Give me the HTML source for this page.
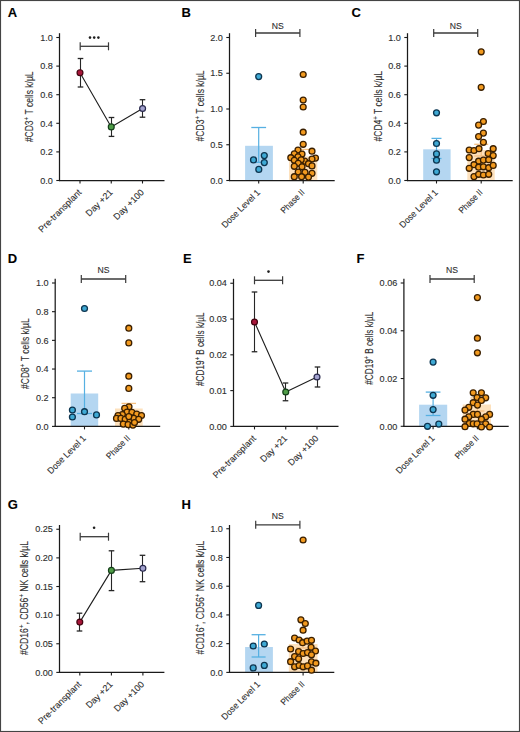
<!DOCTYPE html>
<html><head><meta charset="utf-8"><style>
html,body{margin:0;padding:0;background:#fff;}
body{width:520px;height:732px;overflow:hidden;position:relative;}
svg{position:absolute;left:0;top:0;font-family:"Liberation Sans", sans-serif;}
text{stroke:#2e2e2e;stroke-width:0.12px;}
</style></head><body>
<svg width="520" height="732" viewBox="0 0 520 732">
<rect x="0.5" y="0.5" width="519" height="731" fill="#fff" stroke="#444" stroke-width="1.15"/>
<text x="7.8" y="17.2" font-size="13" font-weight="bold" fill="#000">A</text>
<line x1="59.5" y1="33.2" x2="59.5" y2="181.1" stroke="#1a1a1a" stroke-width="1.25"/>
<line x1="56.3" y1="180.5" x2="59.5" y2="180.5" stroke="#1a1a1a" stroke-width="1.1"/>
<text x="0" y="0" font-size="9.7" text-anchor="end" fill="#2e2e2e" transform="translate(52.9 183.7) scale(0.94 1)">0.0</text>
<line x1="56.3" y1="151.9" x2="59.5" y2="151.9" stroke="#1a1a1a" stroke-width="1.1"/>
<text x="0" y="0" font-size="9.7" text-anchor="end" fill="#2e2e2e" transform="translate(52.9 155.1) scale(0.94 1)">0.2</text>
<line x1="56.3" y1="123.3" x2="59.5" y2="123.3" stroke="#1a1a1a" stroke-width="1.1"/>
<text x="0" y="0" font-size="9.7" text-anchor="end" fill="#2e2e2e" transform="translate(52.9 126.5) scale(0.94 1)">0.4</text>
<line x1="56.3" y1="94.7" x2="59.5" y2="94.7" stroke="#1a1a1a" stroke-width="1.1"/>
<text x="0" y="0" font-size="9.7" text-anchor="end" fill="#2e2e2e" transform="translate(52.9 97.9) scale(0.94 1)">0.6</text>
<line x1="56.3" y1="66.1" x2="59.5" y2="66.1" stroke="#1a1a1a" stroke-width="1.1"/>
<text x="0" y="0" font-size="9.7" text-anchor="end" fill="#2e2e2e" transform="translate(52.9 69.3) scale(0.94 1)">0.8</text>
<line x1="56.3" y1="37.5" x2="59.5" y2="37.5" stroke="#1a1a1a" stroke-width="1.1"/>
<text x="0" y="0" font-size="9.7" text-anchor="end" fill="#2e2e2e" transform="translate(52.9 40.7) scale(0.94 1)">1.0</text>
<line x1="58.9" y1="180.5" x2="164.5" y2="180.5" stroke="#1a1a1a" stroke-width="1.25"/>
<line x1="80" y1="180.5" x2="80" y2="183.5" stroke="#1a1a1a" stroke-width="1.1"/>
<line x1="111.25" y1="180.5" x2="111.25" y2="183.5" stroke="#1a1a1a" stroke-width="1.1"/>
<line x1="142.5" y1="180.5" x2="142.5" y2="183.5" stroke="#1a1a1a" stroke-width="1.1"/>
<text x="82.0" y="193.0" font-size="9.0" text-anchor="end" fill="#2e2e2e" transform="rotate(-45 82.0 193.0)">Pre-transplant</text>
<text x="113.25" y="193.0" font-size="9.0" text-anchor="end" fill="#2e2e2e" transform="rotate(-45 113.25 193.0)">Day +21</text>
<text x="144.5" y="193.0" font-size="9.0" text-anchor="end" fill="#2e2e2e" transform="rotate(-45 144.5 193.0)">Day +100</text>
<path d="M80 72.7 L111.25 126.9 L142.6 108.5" stroke="#1e1e1e" stroke-width="1.1" fill="none"/>
<line x1="80.5" y1="58.5" x2="80.5" y2="87" stroke="#262626" stroke-width="1.1"/>
<line x1="77.7" y1="58.5" x2="83.3" y2="58.5" stroke="#262626" stroke-width="1.3"/>
<line x1="77.7" y1="87" x2="83.3" y2="87" stroke="#262626" stroke-width="1.3"/>
<line x1="111.5" y1="117.5" x2="111.5" y2="136.4" stroke="#262626" stroke-width="1.1"/>
<line x1="108.7" y1="117.5" x2="114.3" y2="117.5" stroke="#262626" stroke-width="1.3"/>
<line x1="108.7" y1="136.4" x2="114.3" y2="136.4" stroke="#262626" stroke-width="1.3"/>
<line x1="142.5" y1="99.7" x2="142.5" y2="117.2" stroke="#262626" stroke-width="1.1"/>
<line x1="139.7" y1="99.7" x2="145.3" y2="99.7" stroke="#262626" stroke-width="1.3"/>
<line x1="139.7" y1="117.2" x2="145.3" y2="117.2" stroke="#262626" stroke-width="1.3"/>
<circle cx="80" cy="72.7" r="2.95" fill="#a8163a" stroke="#430410" stroke-width="1.2"/>
<circle cx="111.25" cy="126.9" r="2.95" fill="#4f9c47" stroke="#15401a" stroke-width="1.2"/>
<circle cx="142.6" cy="108.5" r="2.95" fill="#a3a3cf" stroke="#2a2a4e" stroke-width="1.2"/>
<text x="0" y="0" font-size="10.2" fill="#2e2e2e" text-anchor="middle" transform="translate(33.1 106.8) rotate(-90) scale(0.8332 1)"><tspan>#CD3</tspan><tspan font-size="7.14" dy="-3.88">+</tspan><tspan dy="3.88">&#160;T&#160;cells&#160;k/µL</tspan></text>
<line x1="80.2" y1="46.3" x2="108.5" y2="46.3" stroke="#3a3a3a" stroke-width="1.3"/>
<line x1="80.2" y1="42.3" x2="80.2" y2="50.3" stroke="#3a3a3a" stroke-width="1.2"/>
<line x1="108.5" y1="42.3" x2="108.5" y2="50.3" stroke="#3a3a3a" stroke-width="1.2"/>
<circle cx="90.0" cy="37.6" r="1.3" fill="#1e1e1e"/>
<circle cx="94.2" cy="37.6" r="1.3" fill="#1e1e1e"/>
<circle cx="98.4" cy="37.6" r="1.3" fill="#1e1e1e"/>
<text x="181.5" y="17.2" font-size="13" font-weight="bold" fill="#000">B</text>
<rect x="245.1" y="145.8" width="27.799999999999983" height="34.69999999999999" fill="#b4d6f1"/>
<rect x="289" y="156.5" width="28.30000000000001" height="24.0" fill="#fde1bd"/>
<line x1="258.7" y1="127.5" x2="258.7" y2="162.3" stroke="#56b0e2" stroke-width="1.2"/>
<line x1="251.29999999999998" y1="127.5" x2="266.09999999999997" y2="127.5" stroke="#56b0e2" stroke-width="1.3"/>
<line x1="251.29999999999998" y1="162.3" x2="266.09999999999997" y2="162.3" stroke="#56b0e2" stroke-width="1.3"/>
<line x1="303.2" y1="149.4" x2="303.2" y2="164" stroke="#f6c081" stroke-width="1.2"/>
<line x1="296.2" y1="149.4" x2="310.2" y2="149.4" stroke="#f6c081" stroke-width="1.3"/>
<line x1="296.2" y1="164" x2="310.2" y2="164" stroke="#f6c081" stroke-width="1.3"/>
<line x1="229.5" y1="33.2" x2="229.5" y2="181.1" stroke="#1a1a1a" stroke-width="1.25"/>
<line x1="226.3" y1="180.5" x2="229.5" y2="180.5" stroke="#1a1a1a" stroke-width="1.1"/>
<text x="0" y="0" font-size="9.7" text-anchor="end" fill="#2e2e2e" transform="translate(222.9 183.7) scale(0.94 1)">0.0</text>
<line x1="226.3" y1="144.75" x2="229.5" y2="144.75" stroke="#1a1a1a" stroke-width="1.1"/>
<text x="0" y="0" font-size="9.7" text-anchor="end" fill="#2e2e2e" transform="translate(222.9 147.95) scale(0.94 1)">0.5</text>
<line x1="226.3" y1="109.0" x2="229.5" y2="109.0" stroke="#1a1a1a" stroke-width="1.1"/>
<text x="0" y="0" font-size="9.7" text-anchor="end" fill="#2e2e2e" transform="translate(222.9 112.2) scale(0.94 1)">1.0</text>
<line x1="226.3" y1="73.25" x2="229.5" y2="73.25" stroke="#1a1a1a" stroke-width="1.1"/>
<text x="0" y="0" font-size="9.7" text-anchor="end" fill="#2e2e2e" transform="translate(222.9 76.45) scale(0.94 1)">1.5</text>
<line x1="226.3" y1="37.5" x2="229.5" y2="37.5" stroke="#1a1a1a" stroke-width="1.1"/>
<text x="0" y="0" font-size="9.7" text-anchor="end" fill="#2e2e2e" transform="translate(222.9 40.7) scale(0.94 1)">2.0</text>
<line x1="228.9" y1="180.5" x2="334.7" y2="180.5" stroke="#1a1a1a" stroke-width="1.25"/>
<line x1="258.7" y1="180.5" x2="258.7" y2="183.5" stroke="#1a1a1a" stroke-width="1.1"/>
<line x1="303.2" y1="180.5" x2="303.2" y2="183.5" stroke="#1a1a1a" stroke-width="1.1"/>
<text x="260.7" y="193.0" font-size="9.0" text-anchor="end" fill="#2e2e2e" textLength="50.2" lengthAdjust="spacingAndGlyphs" transform="rotate(-45 260.7 193.0)">Dose Level 1</text>
<text x="305.2" y="193.0" font-size="9.0" text-anchor="end" fill="#2e2e2e" textLength="29.6" lengthAdjust="spacingAndGlyphs" transform="rotate(-45 305.2 193.0)">Phase II</text>
<circle cx="258.7" cy="76.6" r="2.95" fill="#3fa9d4" stroke="#0d3550" stroke-width="1.3"/>
<circle cx="253.5" cy="159.9" r="2.95" fill="#3fa9d4" stroke="#0d3550" stroke-width="1.3"/>
<circle cx="264.3" cy="155.6" r="2.95" fill="#3fa9d4" stroke="#0d3550" stroke-width="1.3"/>
<circle cx="264.3" cy="162.6" r="2.95" fill="#3fa9d4" stroke="#0d3550" stroke-width="1.3"/>
<circle cx="258.8" cy="169.4" r="2.95" fill="#3fa9d4" stroke="#0d3550" stroke-width="1.3"/>
<circle cx="303.2" cy="74.5" r="2.95" fill="#f29a1f" stroke="#3a1f00" stroke-width="1.3"/>
<circle cx="303.2" cy="100" r="2.95" fill="#f29a1f" stroke="#3a1f00" stroke-width="1.3"/>
<circle cx="303.2" cy="107" r="2.95" fill="#f29a1f" stroke="#3a1f00" stroke-width="1.3"/>
<circle cx="303.2" cy="132.2" r="2.95" fill="#f29a1f" stroke="#3a1f00" stroke-width="1.3"/>
<circle cx="303.2" cy="144.3" r="2.95" fill="#f29a1f" stroke="#3a1f00" stroke-width="1.3"/>
<circle cx="298" cy="150" r="2.95" fill="#f29a1f" stroke="#3a1f00" stroke-width="1.3"/>
<circle cx="312" cy="151.2" r="2.95" fill="#f29a1f" stroke="#3a1f00" stroke-width="1.3"/>
<circle cx="294.3" cy="153.8" r="2.95" fill="#f29a1f" stroke="#3a1f00" stroke-width="1.3"/>
<circle cx="302" cy="154" r="2.95" fill="#f29a1f" stroke="#3a1f00" stroke-width="1.3"/>
<circle cx="290.8" cy="157.7" r="2.95" fill="#f29a1f" stroke="#3a1f00" stroke-width="1.3"/>
<circle cx="298" cy="156.8" r="2.95" fill="#f29a1f" stroke="#3a1f00" stroke-width="1.3"/>
<circle cx="315.5" cy="158.1" r="2.95" fill="#f29a1f" stroke="#3a1f00" stroke-width="1.3"/>
<circle cx="312" cy="159" r="2.95" fill="#f29a1f" stroke="#3a1f00" stroke-width="1.3"/>
<circle cx="294.3" cy="160.3" r="2.95" fill="#f29a1f" stroke="#3a1f00" stroke-width="1.3"/>
<circle cx="304.7" cy="161.1" r="2.95" fill="#f29a1f" stroke="#3a1f00" stroke-width="1.3"/>
<circle cx="301.2" cy="159.8" r="2.95" fill="#f29a1f" stroke="#3a1f00" stroke-width="1.3"/>
<circle cx="298.2" cy="163.3" r="2.95" fill="#f29a1f" stroke="#3a1f00" stroke-width="1.3"/>
<circle cx="308.5" cy="163.7" r="2.95" fill="#f29a1f" stroke="#3a1f00" stroke-width="1.3"/>
<circle cx="294.3" cy="166.3" r="2.95" fill="#f29a1f" stroke="#3a1f00" stroke-width="1.3"/>
<circle cx="302" cy="166.8" r="2.95" fill="#f29a1f" stroke="#3a1f00" stroke-width="1.3"/>
<circle cx="312" cy="165.9" r="2.95" fill="#f29a1f" stroke="#3a1f00" stroke-width="1.3"/>
<circle cx="298.2" cy="172" r="2.95" fill="#f29a1f" stroke="#3a1f00" stroke-width="1.3"/>
<circle cx="305" cy="172.4" r="2.95" fill="#f29a1f" stroke="#3a1f00" stroke-width="1.3"/>
<circle cx="312" cy="173.3" r="2.95" fill="#f29a1f" stroke="#3a1f00" stroke-width="1.3"/>
<circle cx="294.3" cy="176.7" r="2.95" fill="#f29a1f" stroke="#3a1f00" stroke-width="1.3"/>
<circle cx="301.6" cy="176.7" r="2.95" fill="#f29a1f" stroke="#3a1f00" stroke-width="1.3"/>
<circle cx="308.5" cy="177.1" r="2.95" fill="#f29a1f" stroke="#3a1f00" stroke-width="1.3"/>
<text x="0" y="0" font-size="10.2" fill="#2e2e2e" text-anchor="middle" transform="translate(203.8 105.9) rotate(-90) scale(0.8379 1)"><tspan>#CD3</tspan><tspan font-size="7.14" dy="-3.88">+</tspan><tspan dy="3.88">&#160;T&#160;cells&#160;k/µL</tspan></text>
<line x1="255.6" y1="33.0" x2="299.9" y2="33.0" stroke="#3a3a3a" stroke-width="1.3"/>
<line x1="255.6" y1="29.0" x2="255.6" y2="37.0" stroke="#3a3a3a" stroke-width="1.2"/>
<line x1="299.9" y1="29.0" x2="299.9" y2="37.0" stroke="#3a3a3a" stroke-width="1.2"/>
<text x="0" y="0" font-size="9.4" text-anchor="middle" fill="#2e2e2e" transform="translate(277.75 29.0) scale(0.92 1)">NS</text>
<text x="351.5" y="17.2" font-size="13" font-weight="bold" fill="#000">C</text>
<rect x="423.2" y="149.3" width="27.400000000000034" height="31.19999999999999" fill="#b4d6f1"/>
<rect x="467.3" y="150" width="27.399999999999977" height="30.5" fill="#fde1bd"/>
<line x1="436.5" y1="138.4" x2="436.5" y2="158.5" stroke="#56b0e2" stroke-width="1.2"/>
<line x1="431.5" y1="138.4" x2="441.5" y2="138.4" stroke="#56b0e2" stroke-width="1.3"/>
<line x1="431.5" y1="158.5" x2="441.5" y2="158.5" stroke="#56b0e2" stroke-width="1.3"/>
<line x1="481.2" y1="144.3" x2="481.2" y2="156" stroke="#f6c081" stroke-width="1.2"/>
<line x1="474.2" y1="144.3" x2="488.2" y2="144.3" stroke="#f6c081" stroke-width="1.3"/>
<line x1="474.2" y1="156" x2="488.2" y2="156" stroke="#f6c081" stroke-width="1.3"/>
<line x1="407.5" y1="33.2" x2="407.5" y2="181.1" stroke="#1a1a1a" stroke-width="1.25"/>
<line x1="404.3" y1="180.5" x2="407.5" y2="180.5" stroke="#1a1a1a" stroke-width="1.1"/>
<text x="0" y="0" font-size="9.7" text-anchor="end" fill="#2e2e2e" transform="translate(400.9 183.7) scale(0.94 1)">0.0</text>
<line x1="404.3" y1="151.9" x2="407.5" y2="151.9" stroke="#1a1a1a" stroke-width="1.1"/>
<text x="0" y="0" font-size="9.7" text-anchor="end" fill="#2e2e2e" transform="translate(400.9 155.1) scale(0.94 1)">0.2</text>
<line x1="404.3" y1="123.3" x2="407.5" y2="123.3" stroke="#1a1a1a" stroke-width="1.1"/>
<text x="0" y="0" font-size="9.7" text-anchor="end" fill="#2e2e2e" transform="translate(400.9 126.5) scale(0.94 1)">0.4</text>
<line x1="404.3" y1="94.7" x2="407.5" y2="94.7" stroke="#1a1a1a" stroke-width="1.1"/>
<text x="0" y="0" font-size="9.7" text-anchor="end" fill="#2e2e2e" transform="translate(400.9 97.9) scale(0.94 1)">0.6</text>
<line x1="404.3" y1="66.1" x2="407.5" y2="66.1" stroke="#1a1a1a" stroke-width="1.1"/>
<text x="0" y="0" font-size="9.7" text-anchor="end" fill="#2e2e2e" transform="translate(400.9 69.3) scale(0.94 1)">0.8</text>
<line x1="404.3" y1="37.5" x2="407.5" y2="37.5" stroke="#1a1a1a" stroke-width="1.1"/>
<text x="0" y="0" font-size="9.7" text-anchor="end" fill="#2e2e2e" transform="translate(400.9 40.7) scale(0.94 1)">1.0</text>
<line x1="406.9" y1="180.5" x2="512.7" y2="180.5" stroke="#1a1a1a" stroke-width="1.25"/>
<line x1="436.5" y1="180.5" x2="436.5" y2="183.5" stroke="#1a1a1a" stroke-width="1.1"/>
<line x1="481.2" y1="180.5" x2="481.2" y2="183.5" stroke="#1a1a1a" stroke-width="1.1"/>
<text x="438.5" y="193.0" font-size="9.0" text-anchor="end" fill="#2e2e2e" textLength="50.2" lengthAdjust="spacingAndGlyphs" transform="rotate(-45 438.5 193.0)">Dose Level 1</text>
<text x="483.2" y="193.0" font-size="9.0" text-anchor="end" fill="#2e2e2e" textLength="29.6" lengthAdjust="spacingAndGlyphs" transform="rotate(-45 483.2 193.0)">Phase II</text>
<circle cx="436.5" cy="112.8" r="2.95" fill="#3fa9d4" stroke="#0d3550" stroke-width="1.3"/>
<circle cx="436.5" cy="143.5" r="2.95" fill="#3fa9d4" stroke="#0d3550" stroke-width="1.3"/>
<circle cx="436.5" cy="153.9" r="2.95" fill="#3fa9d4" stroke="#0d3550" stroke-width="1.3"/>
<circle cx="436.5" cy="160.2" r="2.95" fill="#3fa9d4" stroke="#0d3550" stroke-width="1.3"/>
<circle cx="436.5" cy="171.8" r="2.95" fill="#3fa9d4" stroke="#0d3550" stroke-width="1.3"/>
<circle cx="481.2" cy="51.8" r="2.95" fill="#f29a1f" stroke="#3a1f00" stroke-width="1.3"/>
<circle cx="481.2" cy="87.3" r="2.95" fill="#f29a1f" stroke="#3a1f00" stroke-width="1.3"/>
<circle cx="483.4" cy="121.5" r="2.95" fill="#f29a1f" stroke="#3a1f00" stroke-width="1.3"/>
<circle cx="478.6" cy="125.1" r="2.95" fill="#f29a1f" stroke="#3a1f00" stroke-width="1.3"/>
<circle cx="483.4" cy="133.1" r="2.95" fill="#f29a1f" stroke="#3a1f00" stroke-width="1.3"/>
<circle cx="478.6" cy="136.6" r="2.95" fill="#f29a1f" stroke="#3a1f00" stroke-width="1.3"/>
<circle cx="483.4" cy="142.3" r="2.95" fill="#f29a1f" stroke="#3a1f00" stroke-width="1.3"/>
<circle cx="469.2" cy="150" r="2.95" fill="#f29a1f" stroke="#3a1f00" stroke-width="1.3"/>
<circle cx="474" cy="150.5" r="2.95" fill="#f29a1f" stroke="#3a1f00" stroke-width="1.3"/>
<circle cx="479" cy="148.7" r="2.95" fill="#f29a1f" stroke="#3a1f00" stroke-width="1.3"/>
<circle cx="493.2" cy="148.7" r="2.95" fill="#f29a1f" stroke="#3a1f00" stroke-width="1.3"/>
<circle cx="488.2" cy="153.5" r="2.95" fill="#f29a1f" stroke="#3a1f00" stroke-width="1.3"/>
<circle cx="493.2" cy="155.6" r="2.95" fill="#f29a1f" stroke="#3a1f00" stroke-width="1.3"/>
<circle cx="469.2" cy="157.6" r="2.95" fill="#f29a1f" stroke="#3a1f00" stroke-width="1.3"/>
<circle cx="478.6" cy="161.2" r="2.95" fill="#f29a1f" stroke="#3a1f00" stroke-width="1.3"/>
<circle cx="483.4" cy="160.1" r="2.95" fill="#f29a1f" stroke="#3a1f00" stroke-width="1.3"/>
<circle cx="488.7" cy="159.7" r="2.95" fill="#f29a1f" stroke="#3a1f00" stroke-width="1.3"/>
<circle cx="474" cy="164.7" r="2.95" fill="#f29a1f" stroke="#3a1f00" stroke-width="1.3"/>
<circle cx="469.2" cy="168.3" r="2.95" fill="#f29a1f" stroke="#3a1f00" stroke-width="1.3"/>
<circle cx="478.6" cy="167.2" r="2.95" fill="#f29a1f" stroke="#3a1f00" stroke-width="1.3"/>
<circle cx="483.4" cy="166.8" r="2.95" fill="#f29a1f" stroke="#3a1f00" stroke-width="1.3"/>
<circle cx="488.7" cy="167.7" r="2.95" fill="#f29a1f" stroke="#3a1f00" stroke-width="1.3"/>
<circle cx="493.2" cy="165.4" r="2.95" fill="#f29a1f" stroke="#3a1f00" stroke-width="1.3"/>
<circle cx="474" cy="176.6" r="2.95" fill="#f29a1f" stroke="#3a1f00" stroke-width="1.3"/>
<circle cx="478.6" cy="174.3" r="2.95" fill="#f29a1f" stroke="#3a1f00" stroke-width="1.3"/>
<circle cx="483.4" cy="175" r="2.95" fill="#f29a1f" stroke="#3a1f00" stroke-width="1.3"/>
<circle cx="488.7" cy="174.3" r="2.95" fill="#f29a1f" stroke="#3a1f00" stroke-width="1.3"/>
<text x="0" y="0" font-size="10.2" fill="#2e2e2e" text-anchor="middle" transform="translate(381.6 106.2) rotate(-90) scale(0.8308 1)"><tspan>#CD4</tspan><tspan font-size="7.14" dy="-3.88">+</tspan><tspan dy="3.88">&#160;T&#160;cells&#160;k/µL</tspan></text>
<line x1="433.7" y1="33.0" x2="477.7" y2="33.0" stroke="#3a3a3a" stroke-width="1.3"/>
<line x1="433.7" y1="29.0" x2="433.7" y2="37.0" stroke="#3a3a3a" stroke-width="1.2"/>
<line x1="477.7" y1="29.0" x2="477.7" y2="37.0" stroke="#3a3a3a" stroke-width="1.2"/>
<text x="0" y="0" font-size="9.4" text-anchor="middle" fill="#2e2e2e" transform="translate(455.7 28.6) scale(0.92 1)">NS</text>
<text x="7.8" y="262.8" font-size="13" font-weight="bold" fill="#000">D</text>
<rect x="70.7" y="393.5" width="27.5" height="32.89999999999998" fill="#b4d6f1"/>
<rect x="115" y="408.5" width="27.69999999999999" height="17.899999999999977" fill="#fde1bd"/>
<line x1="84.5" y1="371.1" x2="84.5" y2="413.5" stroke="#56b0e2" stroke-width="1.2"/>
<line x1="77.0" y1="371.1" x2="92.0" y2="371.1" stroke="#56b0e2" stroke-width="1.3"/>
<line x1="77.0" y1="413.5" x2="92.0" y2="413.5" stroke="#56b0e2" stroke-width="1.3"/>
<line x1="128.8" y1="403.4" x2="128.8" y2="413" stroke="#f6c081" stroke-width="1.2"/>
<line x1="121.55000000000001" y1="403.4" x2="136.05" y2="403.4" stroke="#f6c081" stroke-width="1.3"/>
<line x1="121.55000000000001" y1="413" x2="136.05" y2="413" stroke="#f6c081" stroke-width="1.3"/>
<line x1="55.2" y1="278.7" x2="55.2" y2="427.0" stroke="#1a1a1a" stroke-width="1.25"/>
<line x1="52.0" y1="426.4" x2="55.2" y2="426.4" stroke="#1a1a1a" stroke-width="1.1"/>
<text x="0" y="0" font-size="9.7" text-anchor="end" fill="#2e2e2e" transform="translate(48.6 429.59999999999997) scale(0.94 1)">0.0</text>
<line x1="52.0" y1="397.71999999999997" x2="55.2" y2="397.71999999999997" stroke="#1a1a1a" stroke-width="1.1"/>
<text x="0" y="0" font-size="9.7" text-anchor="end" fill="#2e2e2e" transform="translate(48.6 400.91999999999996) scale(0.94 1)">0.2</text>
<line x1="52.0" y1="369.03999999999996" x2="55.2" y2="369.03999999999996" stroke="#1a1a1a" stroke-width="1.1"/>
<text x="0" y="0" font-size="9.7" text-anchor="end" fill="#2e2e2e" transform="translate(48.6 372.23999999999995) scale(0.94 1)">0.4</text>
<line x1="52.0" y1="340.36" x2="55.2" y2="340.36" stroke="#1a1a1a" stroke-width="1.1"/>
<text x="0" y="0" font-size="9.7" text-anchor="end" fill="#2e2e2e" transform="translate(48.6 343.56) scale(0.94 1)">0.6</text>
<line x1="52.0" y1="311.68" x2="55.2" y2="311.68" stroke="#1a1a1a" stroke-width="1.1"/>
<text x="0" y="0" font-size="9.7" text-anchor="end" fill="#2e2e2e" transform="translate(48.6 314.88) scale(0.94 1)">0.8</text>
<line x1="52.0" y1="283.0" x2="55.2" y2="283.0" stroke="#1a1a1a" stroke-width="1.1"/>
<text x="0" y="0" font-size="9.7" text-anchor="end" fill="#2e2e2e" transform="translate(48.6 286.2) scale(0.94 1)">1.0</text>
<line x1="54.6" y1="426.4" x2="160.2" y2="426.4" stroke="#1a1a1a" stroke-width="1.25"/>
<line x1="84.5" y1="426.4" x2="84.5" y2="429.4" stroke="#1a1a1a" stroke-width="1.1"/>
<line x1="128.8" y1="426.4" x2="128.8" y2="429.4" stroke="#1a1a1a" stroke-width="1.1"/>
<text x="86.5" y="438.9" font-size="9.0" text-anchor="end" fill="#2e2e2e" textLength="50.2" lengthAdjust="spacingAndGlyphs" transform="rotate(-45 86.5 438.9)">Dose Level 1</text>
<text x="130.8" y="438.9" font-size="9.0" text-anchor="end" fill="#2e2e2e" textLength="29.6" lengthAdjust="spacingAndGlyphs" transform="rotate(-45 130.8 438.9)">Phase II</text>
<circle cx="84.5" cy="308.5" r="2.95" fill="#3fa9d4" stroke="#0d3550" stroke-width="1.3"/>
<circle cx="72.4" cy="410" r="2.95" fill="#3fa9d4" stroke="#0d3550" stroke-width="1.3"/>
<circle cx="72.4" cy="417" r="2.95" fill="#3fa9d4" stroke="#0d3550" stroke-width="1.3"/>
<circle cx="84.5" cy="411.7" r="2.95" fill="#3fa9d4" stroke="#0d3550" stroke-width="1.3"/>
<circle cx="96.5" cy="414.9" r="2.95" fill="#3fa9d4" stroke="#0d3550" stroke-width="1.3"/>
<circle cx="128.8" cy="328.2" r="2.95" fill="#f29a1f" stroke="#3a1f00" stroke-width="1.3"/>
<circle cx="128.8" cy="342.9" r="2.95" fill="#f29a1f" stroke="#3a1f00" stroke-width="1.3"/>
<circle cx="128.8" cy="376.2" r="2.95" fill="#f29a1f" stroke="#3a1f00" stroke-width="1.3"/>
<circle cx="128.8" cy="388.4" r="2.95" fill="#f29a1f" stroke="#3a1f00" stroke-width="1.3"/>
<circle cx="129" cy="406.8" r="2.95" fill="#f29a1f" stroke="#3a1f00" stroke-width="1.3"/>
<circle cx="124.7" cy="408.3" r="2.95" fill="#f29a1f" stroke="#3a1f00" stroke-width="1.3"/>
<circle cx="127.1" cy="412.1" r="2.95" fill="#f29a1f" stroke="#3a1f00" stroke-width="1.3"/>
<circle cx="131.9" cy="412.3" r="2.95" fill="#f29a1f" stroke="#3a1f00" stroke-width="1.3"/>
<circle cx="136.7" cy="414" r="2.95" fill="#f29a1f" stroke="#3a1f00" stroke-width="1.3"/>
<circle cx="141.5" cy="415.5" r="2.95" fill="#f29a1f" stroke="#3a1f00" stroke-width="1.3"/>
<circle cx="122.3" cy="414.5" r="2.95" fill="#f29a1f" stroke="#3a1f00" stroke-width="1.3"/>
<circle cx="118" cy="415.5" r="2.95" fill="#f29a1f" stroke="#3a1f00" stroke-width="1.3"/>
<circle cx="116.5" cy="418.4" r="2.95" fill="#f29a1f" stroke="#3a1f00" stroke-width="1.3"/>
<circle cx="120.9" cy="418.4" r="2.95" fill="#f29a1f" stroke="#3a1f00" stroke-width="1.3"/>
<circle cx="125.2" cy="419.3" r="2.95" fill="#f29a1f" stroke="#3a1f00" stroke-width="1.3"/>
<circle cx="130" cy="421.3" r="2.95" fill="#f29a1f" stroke="#3a1f00" stroke-width="1.3"/>
<circle cx="133.8" cy="418.4" r="2.95" fill="#f29a1f" stroke="#3a1f00" stroke-width="1.3"/>
<circle cx="138.7" cy="419.3" r="2.95" fill="#f29a1f" stroke="#3a1f00" stroke-width="1.3"/>
<circle cx="123.3" cy="424.1" r="2.95" fill="#f29a1f" stroke="#3a1f00" stroke-width="1.3"/>
<circle cx="128.1" cy="424.6" r="2.95" fill="#f29a1f" stroke="#3a1f00" stroke-width="1.3"/>
<circle cx="132.9" cy="425.1" r="2.95" fill="#f29a1f" stroke="#3a1f00" stroke-width="1.3"/>
<circle cx="128.8" cy="416.6" r="2.95" fill="#f29a1f" stroke="#3a1f00" stroke-width="1.3"/>
<circle cx="134.5" cy="422.5" r="2.95" fill="#f29a1f" stroke="#3a1f00" stroke-width="1.3"/>
<text x="0" y="0" font-size="10.2" fill="#2e2e2e" text-anchor="middle" transform="translate(28.9 353.6) rotate(-90) scale(0.8332 1)"><tspan>#CD8</tspan><tspan font-size="7.14" dy="-3.88">+</tspan><tspan dy="3.88">&#160;T&#160;cells&#160;k/µL</tspan></text>
<line x1="81.3" y1="279.0" x2="125.7" y2="279.0" stroke="#3a3a3a" stroke-width="1.3"/>
<line x1="81.3" y1="275.0" x2="81.3" y2="283.0" stroke="#3a3a3a" stroke-width="1.2"/>
<line x1="125.7" y1="275.0" x2="125.7" y2="283.0" stroke="#3a3a3a" stroke-width="1.2"/>
<text x="0" y="0" font-size="9.4" text-anchor="middle" fill="#2e2e2e" transform="translate(103.5 273.2) scale(0.92 1)">NS</text>
<text x="183" y="262.8" font-size="13" font-weight="bold" fill="#000">E</text>
<line x1="233.5" y1="278.8" x2="233.5" y2="427.0" stroke="#1a1a1a" stroke-width="1.25"/>
<line x1="230.3" y1="426.4" x2="233.5" y2="426.4" stroke="#1a1a1a" stroke-width="1.1"/>
<text x="0" y="0" font-size="9.7" text-anchor="end" fill="#2e2e2e" transform="translate(226.9 429.59999999999997) scale(0.94 1)">0.00</text>
<line x1="230.3" y1="390.61249999999995" x2="233.5" y2="390.61249999999995" stroke="#1a1a1a" stroke-width="1.1"/>
<text x="0" y="0" font-size="9.7" text-anchor="end" fill="#2e2e2e" transform="translate(226.9 393.81249999999994) scale(0.94 1)">0.01</text>
<line x1="230.3" y1="354.825" x2="233.5" y2="354.825" stroke="#1a1a1a" stroke-width="1.1"/>
<text x="0" y="0" font-size="9.7" text-anchor="end" fill="#2e2e2e" transform="translate(226.9 358.025) scale(0.94 1)">0.02</text>
<line x1="230.3" y1="319.0375" x2="233.5" y2="319.0375" stroke="#1a1a1a" stroke-width="1.1"/>
<text x="0" y="0" font-size="9.7" text-anchor="end" fill="#2e2e2e" transform="translate(226.9 322.2375) scale(0.94 1)">0.03</text>
<line x1="230.3" y1="283.25" x2="233.5" y2="283.25" stroke="#1a1a1a" stroke-width="1.1"/>
<text x="0" y="0" font-size="9.7" text-anchor="end" fill="#2e2e2e" transform="translate(226.9 286.45) scale(0.94 1)">0.04</text>
<line x1="232.9" y1="426.4" x2="338.5" y2="426.4" stroke="#1a1a1a" stroke-width="1.25"/>
<line x1="254.5" y1="426.4" x2="254.5" y2="429.4" stroke="#1a1a1a" stroke-width="1.1"/>
<line x1="285.75" y1="426.4" x2="285.75" y2="429.4" stroke="#1a1a1a" stroke-width="1.1"/>
<line x1="317" y1="426.4" x2="317" y2="429.4" stroke="#1a1a1a" stroke-width="1.1"/>
<text x="256.5" y="438.9" font-size="9.0" text-anchor="end" fill="#2e2e2e" transform="rotate(-45 256.5 438.9)">Pre-transplant</text>
<text x="287.75" y="438.9" font-size="9.0" text-anchor="end" fill="#2e2e2e" transform="rotate(-45 287.75 438.9)">Day +21</text>
<text x="319.0" y="438.9" font-size="9.0" text-anchor="end" fill="#2e2e2e" transform="rotate(-45 319.0 438.9)">Day +100</text>
<path d="M254.5 322 L285.75 392 L317 377" stroke="#1e1e1e" stroke-width="1.1" fill="none"/>
<line x1="254.5" y1="292" x2="254.5" y2="351.75" stroke="#262626" stroke-width="1.1"/>
<line x1="251.7" y1="292" x2="257.3" y2="292" stroke="#262626" stroke-width="1.3"/>
<line x1="251.7" y1="351.75" x2="257.3" y2="351.75" stroke="#262626" stroke-width="1.3"/>
<line x1="285.5" y1="383" x2="285.5" y2="400.75" stroke="#262626" stroke-width="1.1"/>
<line x1="282.7" y1="383" x2="288.3" y2="383" stroke="#262626" stroke-width="1.3"/>
<line x1="282.7" y1="400.75" x2="288.3" y2="400.75" stroke="#262626" stroke-width="1.3"/>
<line x1="317.5" y1="367" x2="317.5" y2="387" stroke="#262626" stroke-width="1.1"/>
<line x1="314.7" y1="367" x2="320.3" y2="367" stroke="#262626" stroke-width="1.3"/>
<line x1="314.7" y1="387" x2="320.3" y2="387" stroke="#262626" stroke-width="1.3"/>
<circle cx="254.5" cy="322" r="2.95" fill="#a8163a" stroke="#430410" stroke-width="1.2"/>
<circle cx="285.75" cy="392" r="2.95" fill="#4f9c47" stroke="#15401a" stroke-width="1.2"/>
<circle cx="317" cy="377" r="2.95" fill="#a3a3cf" stroke="#2a2a4e" stroke-width="1.2"/>
<text x="0" y="0" font-size="10.2" fill="#2e2e2e" text-anchor="middle" transform="translate(204.2 349.2) rotate(-90) scale(0.8100 1)"><tspan>#CD19</tspan><tspan font-size="7.14" dy="-3.88">+</tspan><tspan dy="3.88">&#160;B&#160;cells&#160;k/µL</tspan></text>
<line x1="254.5" y1="280.3" x2="282.6" y2="280.3" stroke="#3a3a3a" stroke-width="1.3"/>
<line x1="254.5" y1="276.3" x2="254.5" y2="284.3" stroke="#3a3a3a" stroke-width="1.2"/>
<line x1="282.6" y1="276.3" x2="282.6" y2="284.3" stroke="#3a3a3a" stroke-width="1.2"/>
<circle cx="268.5" cy="271.6" r="1.3" fill="#1e1e1e"/>
<text x="356.5" y="262.8" font-size="13" font-weight="bold" fill="#000">F</text>
<rect x="419.1" y="404.7" width="28.099999999999966" height="21.600000000000023" fill="#b4d6f1"/>
<rect x="462.7" y="404.5" width="28.30000000000001" height="21.80000000000001" fill="#fde1bd"/>
<line x1="433.1" y1="392.1" x2="433.1" y2="415.5" stroke="#56b0e2" stroke-width="1.2"/>
<line x1="425.75" y1="392.1" x2="440.45000000000005" y2="392.1" stroke="#56b0e2" stroke-width="1.3"/>
<line x1="425.75" y1="415.5" x2="440.45000000000005" y2="415.5" stroke="#56b0e2" stroke-width="1.3"/>
<line x1="477.4" y1="398" x2="477.4" y2="411" stroke="#f6c081" stroke-width="1.2"/>
<line x1="470.4" y1="398" x2="484.4" y2="398" stroke="#f6c081" stroke-width="1.3"/>
<line x1="470.4" y1="411" x2="484.4" y2="411" stroke="#f6c081" stroke-width="1.3"/>
<line x1="403.9" y1="278.7" x2="403.9" y2="426.90000000000003" stroke="#1a1a1a" stroke-width="1.25"/>
<line x1="400.7" y1="426.3" x2="403.9" y2="426.3" stroke="#1a1a1a" stroke-width="1.1"/>
<text x="0" y="0" font-size="9.7" text-anchor="end" fill="#2e2e2e" transform="translate(397.29999999999995 429.5) scale(0.94 1)">0.00</text>
<line x1="400.7" y1="378.53333333333336" x2="403.9" y2="378.53333333333336" stroke="#1a1a1a" stroke-width="1.1"/>
<text x="0" y="0" font-size="9.7" text-anchor="end" fill="#2e2e2e" transform="translate(397.29999999999995 381.73333333333335) scale(0.94 1)">0.02</text>
<line x1="400.7" y1="330.76666666666665" x2="403.9" y2="330.76666666666665" stroke="#1a1a1a" stroke-width="1.1"/>
<text x="0" y="0" font-size="9.7" text-anchor="end" fill="#2e2e2e" transform="translate(397.29999999999995 333.96666666666664) scale(0.94 1)">0.04</text>
<line x1="400.7" y1="283.0" x2="403.9" y2="283.0" stroke="#1a1a1a" stroke-width="1.1"/>
<text x="0" y="0" font-size="9.7" text-anchor="end" fill="#2e2e2e" transform="translate(397.29999999999995 286.2) scale(0.94 1)">0.06</text>
<line x1="403.29999999999995" y1="426.3" x2="508.7" y2="426.3" stroke="#1a1a1a" stroke-width="1.25"/>
<line x1="433.1" y1="426.3" x2="433.1" y2="429.3" stroke="#1a1a1a" stroke-width="1.1"/>
<line x1="477.4" y1="426.3" x2="477.4" y2="429.3" stroke="#1a1a1a" stroke-width="1.1"/>
<text x="435.1" y="438.8" font-size="9.0" text-anchor="end" fill="#2e2e2e" textLength="50.2" lengthAdjust="spacingAndGlyphs" transform="rotate(-45 435.1 438.8)">Dose Level 1</text>
<text x="479.4" y="438.8" font-size="9.0" text-anchor="end" fill="#2e2e2e" textLength="29.6" lengthAdjust="spacingAndGlyphs" transform="rotate(-45 479.4 438.8)">Phase II</text>
<circle cx="433.1" cy="362.1" r="2.95" fill="#3fa9d4" stroke="#0d3550" stroke-width="1.3"/>
<circle cx="433.1" cy="395.3" r="2.95" fill="#3fa9d4" stroke="#0d3550" stroke-width="1.3"/>
<circle cx="433.1" cy="409.6" r="2.95" fill="#3fa9d4" stroke="#0d3550" stroke-width="1.3"/>
<circle cx="427.5" cy="426.3" r="2.95" fill="#3fa9d4" stroke="#0d3550" stroke-width="1.3"/>
<circle cx="438.8" cy="424.1" r="2.95" fill="#3fa9d4" stroke="#0d3550" stroke-width="1.3"/>
<circle cx="477.4" cy="297.6" r="2.95" fill="#f29a1f" stroke="#3a1f00" stroke-width="1.3"/>
<circle cx="477.4" cy="338.2" r="2.95" fill="#f29a1f" stroke="#3a1f00" stroke-width="1.3"/>
<circle cx="477.4" cy="352.8" r="2.95" fill="#f29a1f" stroke="#3a1f00" stroke-width="1.3"/>
<circle cx="473.2" cy="392.8" r="2.95" fill="#f29a1f" stroke="#3a1f00" stroke-width="1.3"/>
<circle cx="481.4" cy="392.8" r="2.95" fill="#f29a1f" stroke="#3a1f00" stroke-width="1.3"/>
<circle cx="477.1" cy="397.5" r="2.95" fill="#f29a1f" stroke="#3a1f00" stroke-width="1.3"/>
<circle cx="485.7" cy="397.8" r="2.95" fill="#f29a1f" stroke="#3a1f00" stroke-width="1.3"/>
<circle cx="481.4" cy="400.4" r="2.95" fill="#f29a1f" stroke="#3a1f00" stroke-width="1.3"/>
<circle cx="473.2" cy="402.7" r="2.95" fill="#f29a1f" stroke="#3a1f00" stroke-width="1.3"/>
<circle cx="477.5" cy="405.1" r="2.95" fill="#f29a1f" stroke="#3a1f00" stroke-width="1.3"/>
<circle cx="468.8" cy="407.3" r="2.95" fill="#f29a1f" stroke="#3a1f00" stroke-width="1.3"/>
<circle cx="465" cy="410.1" r="2.95" fill="#f29a1f" stroke="#3a1f00" stroke-width="1.3"/>
<circle cx="473.2" cy="414.4" r="2.95" fill="#f29a1f" stroke="#3a1f00" stroke-width="1.3"/>
<circle cx="477.5" cy="414.4" r="2.95" fill="#f29a1f" stroke="#3a1f00" stroke-width="1.3"/>
<circle cx="468.8" cy="416.8" r="2.95" fill="#f29a1f" stroke="#3a1f00" stroke-width="1.3"/>
<circle cx="465" cy="419.2" r="2.95" fill="#f29a1f" stroke="#3a1f00" stroke-width="1.3"/>
<circle cx="489.6" cy="414.4" r="2.95" fill="#f29a1f" stroke="#3a1f00" stroke-width="1.3"/>
<circle cx="485.7" cy="416.8" r="2.95" fill="#f29a1f" stroke="#3a1f00" stroke-width="1.3"/>
<circle cx="481.4" cy="419.2" r="2.95" fill="#f29a1f" stroke="#3a1f00" stroke-width="1.3"/>
<circle cx="469.3" cy="423.5" r="2.95" fill="#f29a1f" stroke="#3a1f00" stroke-width="1.3"/>
<circle cx="473.2" cy="423.8" r="2.95" fill="#f29a1f" stroke="#3a1f00" stroke-width="1.3"/>
<circle cx="477.1" cy="423.9" r="2.95" fill="#f29a1f" stroke="#3a1f00" stroke-width="1.3"/>
<circle cx="485.7" cy="423.8" r="2.95" fill="#f29a1f" stroke="#3a1f00" stroke-width="1.3"/>
<circle cx="465" cy="426.7" r="2.95" fill="#f29a1f" stroke="#3a1f00" stroke-width="1.3"/>
<circle cx="481.4" cy="427" r="2.95" fill="#f29a1f" stroke="#3a1f00" stroke-width="1.3"/>
<circle cx="489.6" cy="427" r="2.95" fill="#f29a1f" stroke="#3a1f00" stroke-width="1.3"/>
<text x="0" y="0" font-size="10.2" fill="#2e2e2e" text-anchor="middle" transform="translate(373.3 348.2) rotate(-90) scale(0.8012 1)"><tspan>#CD19</tspan><tspan font-size="7.14" dy="-3.88">+</tspan><tspan dy="3.88">&#160;B&#160;cells&#160;k/µL</tspan></text>
<line x1="430" y1="279.0" x2="474.2" y2="279.0" stroke="#3a3a3a" stroke-width="1.3"/>
<line x1="430" y1="275.0" x2="430" y2="283.0" stroke="#3a3a3a" stroke-width="1.2"/>
<line x1="474.2" y1="275.0" x2="474.2" y2="283.0" stroke="#3a3a3a" stroke-width="1.2"/>
<text x="0" y="0" font-size="9.4" text-anchor="middle" fill="#2e2e2e" transform="translate(452.1 273.2) scale(0.92 1)">NS</text>
<text x="7.8" y="508.8" font-size="13" font-weight="bold" fill="#000">G</text>
<line x1="59.5" y1="525" x2="59.5" y2="673.0" stroke="#1a1a1a" stroke-width="1.25"/>
<line x1="56.3" y1="672.4" x2="59.5" y2="672.4" stroke="#1a1a1a" stroke-width="1.1"/>
<text x="0" y="0" font-size="9.7" text-anchor="end" fill="#2e2e2e" transform="translate(52.9 675.6) scale(0.94 1)">0.00</text>
<line x1="56.3" y1="643.77" x2="59.5" y2="643.77" stroke="#1a1a1a" stroke-width="1.1"/>
<text x="0" y="0" font-size="9.7" text-anchor="end" fill="#2e2e2e" transform="translate(52.9 646.97) scale(0.94 1)">0.05</text>
<line x1="56.3" y1="615.14" x2="59.5" y2="615.14" stroke="#1a1a1a" stroke-width="1.1"/>
<text x="0" y="0" font-size="9.7" text-anchor="end" fill="#2e2e2e" transform="translate(52.9 618.34) scale(0.94 1)">0.10</text>
<line x1="56.3" y1="586.51" x2="59.5" y2="586.51" stroke="#1a1a1a" stroke-width="1.1"/>
<text x="0" y="0" font-size="9.7" text-anchor="end" fill="#2e2e2e" transform="translate(52.9 589.71) scale(0.94 1)">0.15</text>
<line x1="56.3" y1="557.88" x2="59.5" y2="557.88" stroke="#1a1a1a" stroke-width="1.1"/>
<text x="0" y="0" font-size="9.7" text-anchor="end" fill="#2e2e2e" transform="translate(52.9 561.08) scale(0.94 1)">0.20</text>
<line x1="56.3" y1="529.25" x2="59.5" y2="529.25" stroke="#1a1a1a" stroke-width="1.1"/>
<text x="0" y="0" font-size="9.7" text-anchor="end" fill="#2e2e2e" transform="translate(52.9 532.45) scale(0.94 1)">0.25</text>
<line x1="58.9" y1="672.4" x2="164.4" y2="672.4" stroke="#1a1a1a" stroke-width="1.25"/>
<line x1="79.8" y1="672.4" x2="79.8" y2="675.4" stroke="#1a1a1a" stroke-width="1.1"/>
<line x1="111.4" y1="672.4" x2="111.4" y2="675.4" stroke="#1a1a1a" stroke-width="1.1"/>
<line x1="142.9" y1="672.4" x2="142.9" y2="675.4" stroke="#1a1a1a" stroke-width="1.1"/>
<text x="81.8" y="684.9" font-size="9.0" text-anchor="end" fill="#2e2e2e" transform="rotate(-45 81.8 684.9)">Pre-transplant</text>
<text x="113.4" y="684.9" font-size="9.0" text-anchor="end" fill="#2e2e2e" transform="rotate(-45 113.4 684.9)">Day +21</text>
<text x="144.9" y="684.9" font-size="9.0" text-anchor="end" fill="#2e2e2e" transform="rotate(-45 144.9 684.9)">Day +100</text>
<path d="M79.8 622.1 L111.4 570.4 L142.9 568.3" stroke="#1e1e1e" stroke-width="1.1" fill="none"/>
<line x1="79.5" y1="613.2" x2="79.5" y2="631" stroke="#262626" stroke-width="1.1"/>
<line x1="76.7" y1="613.2" x2="82.3" y2="613.2" stroke="#262626" stroke-width="1.3"/>
<line x1="76.7" y1="631" x2="82.3" y2="631" stroke="#262626" stroke-width="1.3"/>
<line x1="111.5" y1="550.8" x2="111.5" y2="590.6" stroke="#262626" stroke-width="1.1"/>
<line x1="108.7" y1="550.8" x2="114.3" y2="550.8" stroke="#262626" stroke-width="1.3"/>
<line x1="108.7" y1="590.6" x2="114.3" y2="590.6" stroke="#262626" stroke-width="1.3"/>
<line x1="142.5" y1="555.3" x2="142.5" y2="581.7" stroke="#262626" stroke-width="1.1"/>
<line x1="139.7" y1="555.3" x2="145.3" y2="555.3" stroke="#262626" stroke-width="1.3"/>
<line x1="139.7" y1="581.7" x2="145.3" y2="581.7" stroke="#262626" stroke-width="1.3"/>
<circle cx="79.8" cy="622.1" r="2.95" fill="#a8163a" stroke="#430410" stroke-width="1.2"/>
<circle cx="111.4" cy="570.4" r="2.95" fill="#4f9c47" stroke="#15401a" stroke-width="1.2"/>
<circle cx="142.9" cy="568.3" r="2.95" fill="#a3a3cf" stroke="#2a2a4e" stroke-width="1.2"/>
<text x="0" y="0" font-size="10.6" fill="#2e2e2e" text-anchor="middle" transform="translate(27.7 598.0) rotate(-90) scale(0.8191 1)"><tspan>#CD16</tspan><tspan font-size="7.42" dy="-4.03">+</tspan><tspan dy="4.03">,&#160;CD56</tspan><tspan font-size="7.42" dy="-4.03">+</tspan><tspan dy="4.03">&#160;NK&#160;cells&#160;k/µL</tspan></text>
<line x1="80.2" y1="536.7" x2="108.5" y2="536.7" stroke="#3a3a3a" stroke-width="1.3"/>
<line x1="80.2" y1="532.7" x2="80.2" y2="540.7" stroke="#3a3a3a" stroke-width="1.2"/>
<line x1="108.5" y1="532.7" x2="108.5" y2="540.7" stroke="#3a3a3a" stroke-width="1.2"/>
<circle cx="94.1" cy="527.8" r="1.3" fill="#1e1e1e"/>
<text x="181.5" y="508.8" font-size="13" font-weight="bold" fill="#000">H</text>
<rect x="245.1" y="647" width="27.799999999999983" height="25.399999999999977" fill="#b4d6f1"/>
<rect x="288.8" y="644" width="28.69999999999999" height="28.399999999999977" fill="#fde1bd"/>
<line x1="258.6" y1="634.7" x2="258.6" y2="657" stroke="#56b0e2" stroke-width="1.2"/>
<line x1="251.60000000000002" y1="634.7" x2="265.6" y2="634.7" stroke="#56b0e2" stroke-width="1.3"/>
<line x1="251.60000000000002" y1="657" x2="265.6" y2="657" stroke="#56b0e2" stroke-width="1.3"/>
<line x1="303.1" y1="639" x2="303.1" y2="648" stroke="#f6c081" stroke-width="1.2"/>
<line x1="296.1" y1="639" x2="310.1" y2="639" stroke="#f6c081" stroke-width="1.3"/>
<line x1="296.1" y1="648" x2="310.1" y2="648" stroke="#f6c081" stroke-width="1.3"/>
<line x1="229.5" y1="525" x2="229.5" y2="673.0" stroke="#1a1a1a" stroke-width="1.25"/>
<line x1="226.3" y1="672.4" x2="229.5" y2="672.4" stroke="#1a1a1a" stroke-width="1.1"/>
<text x="0" y="0" font-size="9.7" text-anchor="end" fill="#2e2e2e" transform="translate(222.9 675.6) scale(0.94 1)">0.0</text>
<line x1="226.3" y1="643.67" x2="229.5" y2="643.67" stroke="#1a1a1a" stroke-width="1.1"/>
<text x="0" y="0" font-size="9.7" text-anchor="end" fill="#2e2e2e" transform="translate(222.9 646.87) scale(0.94 1)">0.2</text>
<line x1="226.3" y1="614.9399999999999" x2="229.5" y2="614.9399999999999" stroke="#1a1a1a" stroke-width="1.1"/>
<text x="0" y="0" font-size="9.7" text-anchor="end" fill="#2e2e2e" transform="translate(222.9 618.14) scale(0.94 1)">0.4</text>
<line x1="226.3" y1="586.21" x2="229.5" y2="586.21" stroke="#1a1a1a" stroke-width="1.1"/>
<text x="0" y="0" font-size="9.7" text-anchor="end" fill="#2e2e2e" transform="translate(222.9 589.4100000000001) scale(0.94 1)">0.6</text>
<line x1="226.3" y1="557.48" x2="229.5" y2="557.48" stroke="#1a1a1a" stroke-width="1.1"/>
<text x="0" y="0" font-size="9.7" text-anchor="end" fill="#2e2e2e" transform="translate(222.9 560.6800000000001) scale(0.94 1)">0.8</text>
<line x1="226.3" y1="528.75" x2="229.5" y2="528.75" stroke="#1a1a1a" stroke-width="1.1"/>
<text x="0" y="0" font-size="9.7" text-anchor="end" fill="#2e2e2e" transform="translate(222.9 531.95) scale(0.94 1)">1.0</text>
<line x1="228.9" y1="672.4" x2="334.3" y2="672.4" stroke="#1a1a1a" stroke-width="1.25"/>
<line x1="258.6" y1="672.4" x2="258.6" y2="675.4" stroke="#1a1a1a" stroke-width="1.1"/>
<line x1="303.1" y1="672.4" x2="303.1" y2="675.4" stroke="#1a1a1a" stroke-width="1.1"/>
<text x="260.6" y="684.9" font-size="9.0" text-anchor="end" fill="#2e2e2e" textLength="50.2" lengthAdjust="spacingAndGlyphs" transform="rotate(-45 260.6 684.9)">Dose Level 1</text>
<text x="305.1" y="684.9" font-size="9.0" text-anchor="end" fill="#2e2e2e" textLength="29.6" lengthAdjust="spacingAndGlyphs" transform="rotate(-45 305.1 684.9)">Phase II</text>
<circle cx="258.6" cy="605.4" r="2.95" fill="#3fa9d4" stroke="#0d3550" stroke-width="1.3"/>
<circle cx="253.2" cy="646" r="2.95" fill="#3fa9d4" stroke="#0d3550" stroke-width="1.3"/>
<circle cx="264.3" cy="644" r="2.95" fill="#3fa9d4" stroke="#0d3550" stroke-width="1.3"/>
<circle cx="264.3" cy="665.4" r="2.95" fill="#3fa9d4" stroke="#0d3550" stroke-width="1.3"/>
<circle cx="253.2" cy="667.9" r="2.95" fill="#3fa9d4" stroke="#0d3550" stroke-width="1.3"/>
<circle cx="303.1" cy="540" r="2.95" fill="#f29a1f" stroke="#3a1f00" stroke-width="1.3"/>
<circle cx="300.9" cy="619.8" r="2.95" fill="#f29a1f" stroke="#3a1f00" stroke-width="1.3"/>
<circle cx="305.3" cy="623.5" r="2.95" fill="#f29a1f" stroke="#3a1f00" stroke-width="1.3"/>
<circle cx="303.1" cy="630.2" r="2.95" fill="#f29a1f" stroke="#3a1f00" stroke-width="1.3"/>
<circle cx="294.6" cy="638" r="2.95" fill="#f29a1f" stroke="#3a1f00" stroke-width="1.3"/>
<circle cx="299.1" cy="640" r="2.95" fill="#f29a1f" stroke="#3a1f00" stroke-width="1.3"/>
<circle cx="302.6" cy="642.7" r="2.95" fill="#f29a1f" stroke="#3a1f00" stroke-width="1.3"/>
<circle cx="307.1" cy="641.1" r="2.95" fill="#f29a1f" stroke="#3a1f00" stroke-width="1.3"/>
<circle cx="311.5" cy="640.3" r="2.95" fill="#f29a1f" stroke="#3a1f00" stroke-width="1.3"/>
<circle cx="290.6" cy="649" r="2.95" fill="#f29a1f" stroke="#3a1f00" stroke-width="1.3"/>
<circle cx="311.1" cy="647.3" r="2.95" fill="#f29a1f" stroke="#3a1f00" stroke-width="1.3"/>
<circle cx="298.6" cy="651.5" r="2.95" fill="#f29a1f" stroke="#3a1f00" stroke-width="1.3"/>
<circle cx="303.1" cy="653.5" r="2.95" fill="#f29a1f" stroke="#3a1f00" stroke-width="1.3"/>
<circle cx="307.5" cy="652.6" r="2.95" fill="#f29a1f" stroke="#3a1f00" stroke-width="1.3"/>
<circle cx="315.5" cy="651" r="2.95" fill="#f29a1f" stroke="#3a1f00" stroke-width="1.3"/>
<circle cx="311.5" cy="654.8" r="2.95" fill="#f29a1f" stroke="#3a1f00" stroke-width="1.3"/>
<circle cx="294.6" cy="656.6" r="2.95" fill="#f29a1f" stroke="#3a1f00" stroke-width="1.3"/>
<circle cx="298.6" cy="658.8" r="2.95" fill="#f29a1f" stroke="#3a1f00" stroke-width="1.3"/>
<circle cx="290.6" cy="661.7" r="2.95" fill="#f29a1f" stroke="#3a1f00" stroke-width="1.3"/>
<circle cx="311.5" cy="661.9" r="2.95" fill="#f29a1f" stroke="#3a1f00" stroke-width="1.3"/>
<circle cx="315.9" cy="663.2" r="2.95" fill="#f29a1f" stroke="#3a1f00" stroke-width="1.3"/>
<circle cx="294.6" cy="666.8" r="2.95" fill="#f29a1f" stroke="#3a1f00" stroke-width="1.3"/>
<circle cx="299.1" cy="665.5" r="2.95" fill="#f29a1f" stroke="#3a1f00" stroke-width="1.3"/>
<circle cx="303.1" cy="666.8" r="2.95" fill="#f29a1f" stroke="#3a1f00" stroke-width="1.3"/>
<circle cx="307.5" cy="665.9" r="2.95" fill="#f29a1f" stroke="#3a1f00" stroke-width="1.3"/>
<circle cx="311.5" cy="670.2" r="2.95" fill="#f29a1f" stroke="#3a1f00" stroke-width="1.3"/>
<line x1="255.7" y1="524.8" x2="299.9" y2="524.8" stroke="#3a3a3a" stroke-width="1.3"/>
<line x1="255.7" y1="520.8" x2="255.7" y2="528.8" stroke="#3a3a3a" stroke-width="1.2"/>
<line x1="299.9" y1="520.8" x2="299.9" y2="528.8" stroke="#3a3a3a" stroke-width="1.2"/>
<text x="0" y="0" font-size="9.4" text-anchor="middle" fill="#2e2e2e" transform="translate(277.79999999999995 519.3) scale(0.92 1)">NS</text>
<text x="0" y="0" font-size="10.6" fill="#2e2e2e" text-anchor="middle" transform="translate(204.0 597.6) rotate(-90) scale(0.8134 1)"><tspan>#CD16</tspan><tspan font-size="7.42" dy="-4.03">+</tspan><tspan dy="4.03">,&#160;CD56</tspan><tspan font-size="7.42" dy="-4.03">+</tspan><tspan dy="4.03">&#160;NK&#160;cells&#160;k/µL</tspan></text>
</svg>
</body></html>
